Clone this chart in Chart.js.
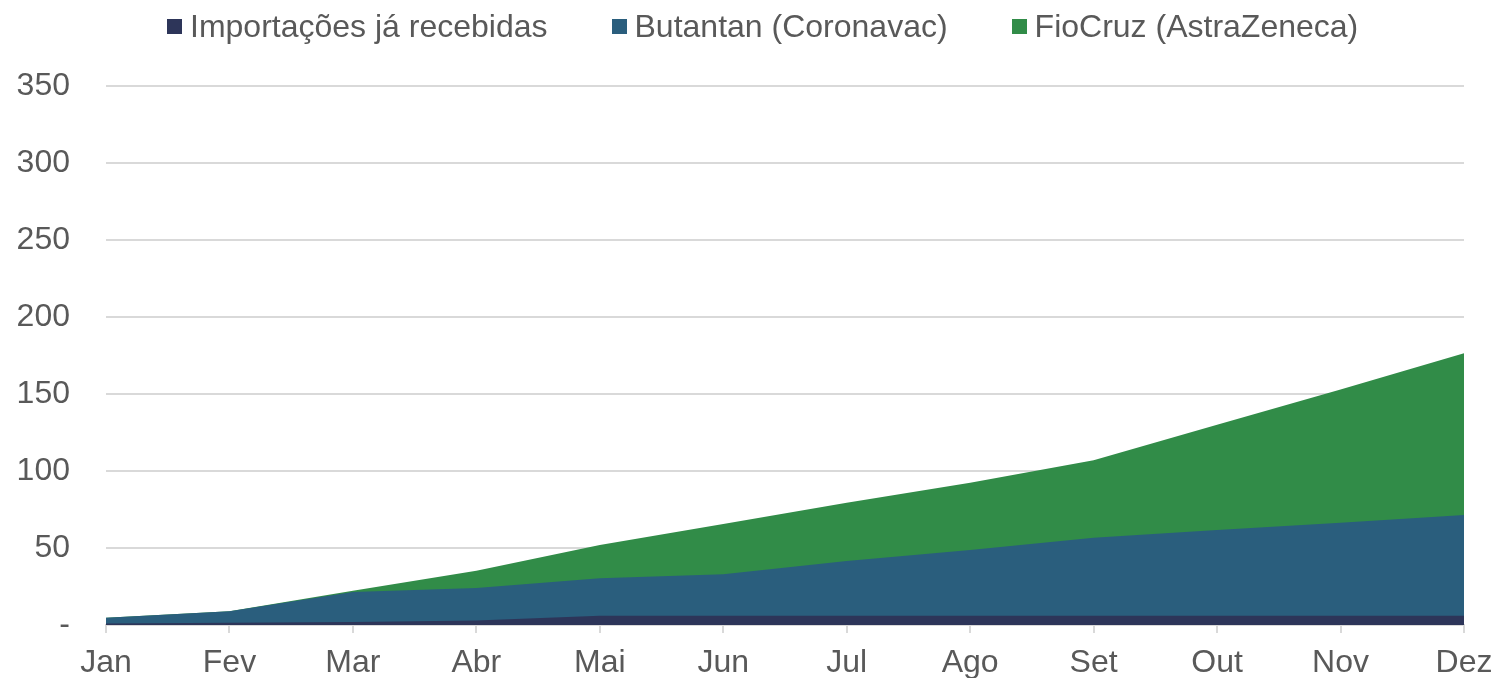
<!DOCTYPE html>
<html>
<head>
<meta charset="utf-8">
<script src="https://cdn.jsdelivr.net/npm/chart.js@4"></script>
<style>
  html, body { margin: 0; padding: 0; background: #fff; overflow: hidden; }
  #wrap { width: 1496px; height: 678px; position: relative; }
  #chart { display: block; }
  #legend {
    position: absolute; left: 167px; top: 8px;
    display: flex; gap: 64px;
    font-family: "Liberation Sans", Arial, sans-serif; font-size: 32px; color: #595959;
  }
  #legend .item { display: flex; align-items: center; gap: 8px; white-space: nowrap; }
  #legend .box { width: 15px; height: 15px; display: inline-block; }
</style>
</head>
<body>
<div id="wrap">
  <canvas id="chart" width="1496" height="678"></canvas>
  <div id="legend"></div>
</div>
<script>
const months = ['Jan', 'Fev', 'Mar', 'Abr', 'Mai', 'Jun', 'Jul', 'Ago', 'Set', 'Out', 'Nov', 'Dez'];
const importacoes = [1, 1.5, 2, 3, 6, 6, 6, 6, 6, 6, 6, 6];
const butantan = [3.7, 7.5, 19.4, 21, 24.3, 27, 35.5, 42.7, 50.7, 55.7, 60.4, 65.4];
const fiocruz = [0, 0, 0.9, 11.3, 21.7, 32.6, 37.9, 43.7, 50.3, 68.3, 86.6, 105];
const yTicks = [0, 50, 100, 150, 200, 250, 300, 350];

const txt = '#595959';
const font = { family: '"Liberation Sans", Arial, sans-serif', size: 32 };

function area(label, data, color) {
    return {
        label: label,
        data: data,
        fill: true,
        backgroundColor: color,
        borderColor: color,
        borderWidth: 0,
        pointRadius: 0,
        tension: 0
    };
}

const chart = new Chart(document.getElementById('chart'), {
    type: 'line',
    data: {
        labels: months,
        datasets: [
            area('Importações já recebidas', importacoes, '#2d3559'),
            area('Butantan (Coronavac)', butantan, '#2a5e7d'),
            area('FioCruz (AstraZeneca)', fiocruz, '#318c48')
        ]
    },
    options: {
        responsive: false,
        animation: false,
        layout: { padding: { left: 0, right: 0, top: 86, bottom: 0 } },
        plugins: {
            tooltip: { enabled: false },
            legend: { display: false }
        },
        scales: {
            x: {
                offset: false,
                afterFit: (s) => { s.height = 53; s.paddingRight = 32; s.paddingLeft = 0; },
                grid: { display: true, drawOnChartArea: false, drawTicks: true, tickLength: 8, color: '#d9d9d9', lineWidth: 2 },
                border: { color: '#d9d9d9', width: 2 },
                ticks: { color: txt, font: font, padding: 11, maxRotation: 0, autoSkip: false }
            },
            y: {
                stacked: true,
                min: 0,
                max: 350,
                afterBuildTicks: (s) => { s.ticks = yTicks.map(v => ({ value: v })); },
                // tick padding would otherwise push the plot bottom up
                afterFit: (s) => { s.width = 106; s.paddingBottom = 0; s.paddingTop = 0; },
                grid: { color: '#d9d9d9', lineWidth: 2, drawTicks: false },
                border: { display: false },
                ticks: {
                    color: txt,
                    font: font,
                    padding: 36,
                    callback: (v) => v === 0 ? '-' : v
                }
            }
        }
    }
});

// legend as html, built from the datasets
const legend = document.getElementById('legend');
chart.data.datasets.forEach(ds => {
    const item = document.createElement('span');
    item.className = 'item';
    const box = document.createElement('span');
    box.className = 'box';
    box.style.background = ds.backgroundColor;
    const label = document.createElement('span');
    label.textContent = ds.label;
    item.appendChild(box);
    item.appendChild(label);
    legend.appendChild(item);
});
</script>
</body>
</html>
